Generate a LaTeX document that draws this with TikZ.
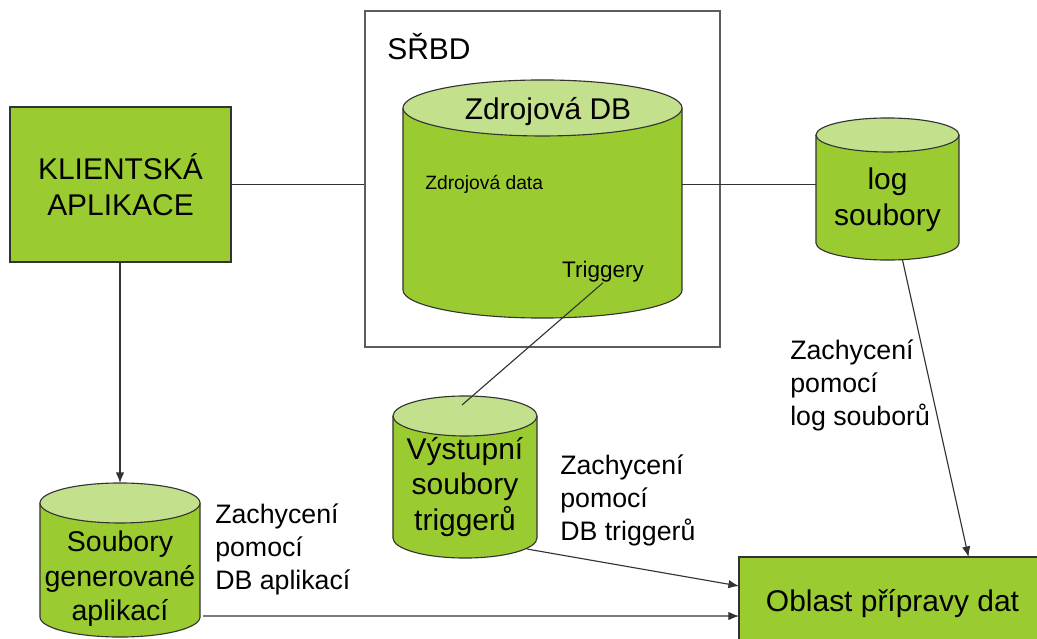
\documentclass[tikz,border=0pt]{standalone}
\usepackage{fontspec}
\setmainfont{Liberation Sans}
\usepackage{tikz}
\usetikzlibrary{calc,arrows.meta,backgrounds}

\definecolor{boxgreen}{HTML}{9ACC32}
\definecolor{topgreen}{HTML}{C3E08C}
\definecolor{linecol}{HTML}{333333}

\newcommand\bigfont{\fontsize{21.3}{25.5}\selectfont}
\newcommand\lblfont{\fontsize{19}{23.5}\selectfont}

% cylinder drawn round a node: #1 node (body part), #2 radius of the ends
\newcommand\dbshape[2]{%
  \path let \p1=(#1.north west), \p2=(#1.south east), \n1={0.5*(\x2-\x1)} in
    [fill=boxgreen] (\x1,\y1) -- (\x1,{\y2+#2})
      arc[start angle=180, end angle=360, x radius=\n1, y radius=#2]
      -- (\x2,\y1) -- cycle;
  \draw[conn] let \p1=(#1.north west), \p2=(#1.south east), \n1={0.5*(\x2-\x1)} in
    (\x1,\y1) -- (\x1,{\y2+#2})
      arc[start angle=180, end angle=360, x radius=\n1, y radius=#2]
      -- (\x2,\y1);
  \filldraw[conn, fill=topgreen] let \p1=(#1.north west), \p2=(#1.south east),
    \n1={0.5*(\x2-\x1)} in
    ({\x1+\n1},\y1) ellipse[x radius=\n1, y radius=#2];
}

\tikzset{
  box/.style={draw=linecol, fill=boxgreen, line width=0.8pt, font=\bigfont,
    align=center, inner sep=0pt, outer sep=0pt},
  db/.style={font=\bigfont, align=center, inner sep=0pt, outer sep=0pt},
  lbl/.style={font=\lblfont, align=left, anchor=west, inner sep=0pt},
  conn/.style={draw=linecol, line width=0.8pt},
  arr/.style={conn, -{Latex[length=7.5pt,width=6pt]}}
}

\begin{document}
\begin{tikzpicture}[x=0.025cm, y=-0.025cm]
    \useasboundingbox (0,0) rectangle (1037,638);
    \clip (0,0) rectangle (1037,638);

    % draw the DBMS frame
    \node[draw=linecol!80, line width=0.8pt, minimum width=8.875cm,
      minimum height=8.4cm, inner sep=0pt] (srbd) at (542.5,179) {};
    \node[anchor=west, inner sep=0pt, font=\bigfont] (srbdlbl) at (387,47) {SŘBD};

    % draw boxes
    \node[box, minimum width=5.525cm, minimum height=3.875cm] (klient)
      at (120.5,184.5) {KLIENTSKÁ\\APLIKACE};
    \node[box, minimum width=7.675cm, minimum height=2.325cm] (oblast)
      at (892.5,603.5) {Oblast přípravy dat};

    % databases (body part only, the ends are drawn below)
    \node[db, minimum width=6.975cm, minimum height=5.25cm] (zdroj)
      at (542.5,213) {};
    \node[db, minimum width=3.575cm, minimum height=3.125cm] (log)
      at (887.5,197.5) {};
    \node[db, minimum width=3.6cm, minimum height=3.55cm] (vystup)
      at (465,487) {Výstupní\\soubory\\triggerů};
    \node[db, minimum width=4cm, minimum height=3.35cm] (soubory)
      at (120,570) {};

    \begin{scope}[on background layer]
      \dbshape{zdroj}{0.7cm}
      \dbshape{log}{0.425cm}
      \dbshape{vystup}{0.5cm}
      \dbshape{soubory}{0.5cm}
    \end{scope}

    % texts inside the databases
    \node[db] (logtxt) at (887.5,200) {log\\soubory};
    \node[db, font=\fontsize{20.3}{24.5}\selectfont] (soubtxt)
      at (120,579) {Soubory\\generované\\aplikací};
    \node[font=\bigfont, inner sep=0pt] (zdrojlbl) at (548,112) {Zdrojová DB};
    \node[anchor=west, inner sep=0pt, font=\fontsize{13.7}{16}\selectfont]
      (zdata) at (425,184) {Zdrojová data};
    \node[inner sep=0pt, font=\fontsize{16}{19}\selectfont] (trig)
      at (603,272) {Triggery};

    % draw labels
    \node[lbl] (capapp) at (215,549) {Zachycení\\pomocí\\DB aplikací};
    \node[lbl] (captrig) at (560,500) {Zachycení\\pomocí\\DB triggerů};
    \node[lbl] (caplog) at (790,385) {Zachycení\\pomocí\\log souborů};

    % draw connectors
    \draw[conn] (klient.east) -- (klient.east -| srbd.west);
    \draw[conn] (klient.east -| zdroj.east) -- (klient.east -| log.west);
    \draw[conn] (trig.south) -- ($(vystup.north)+(-3,-11)$);
    \draw[arr] (klient.south -| soubory.north) -- ($(soubory.north)+(0,-20)$);
    \draw[arr] ($(log.south)+(15,0)$) -- ($(oblast.north)+(76,0)$);
    \draw[arr] ($(vystup.south)+(62,-9)$) -- ($(oblast.west)+(0,-17.5)$);
    \draw[arr] ($(soubory.east)+(3,46)$) -- ($(oblast.west)+(0,12.5)$);

  \end{tikzpicture}
\end{document}
